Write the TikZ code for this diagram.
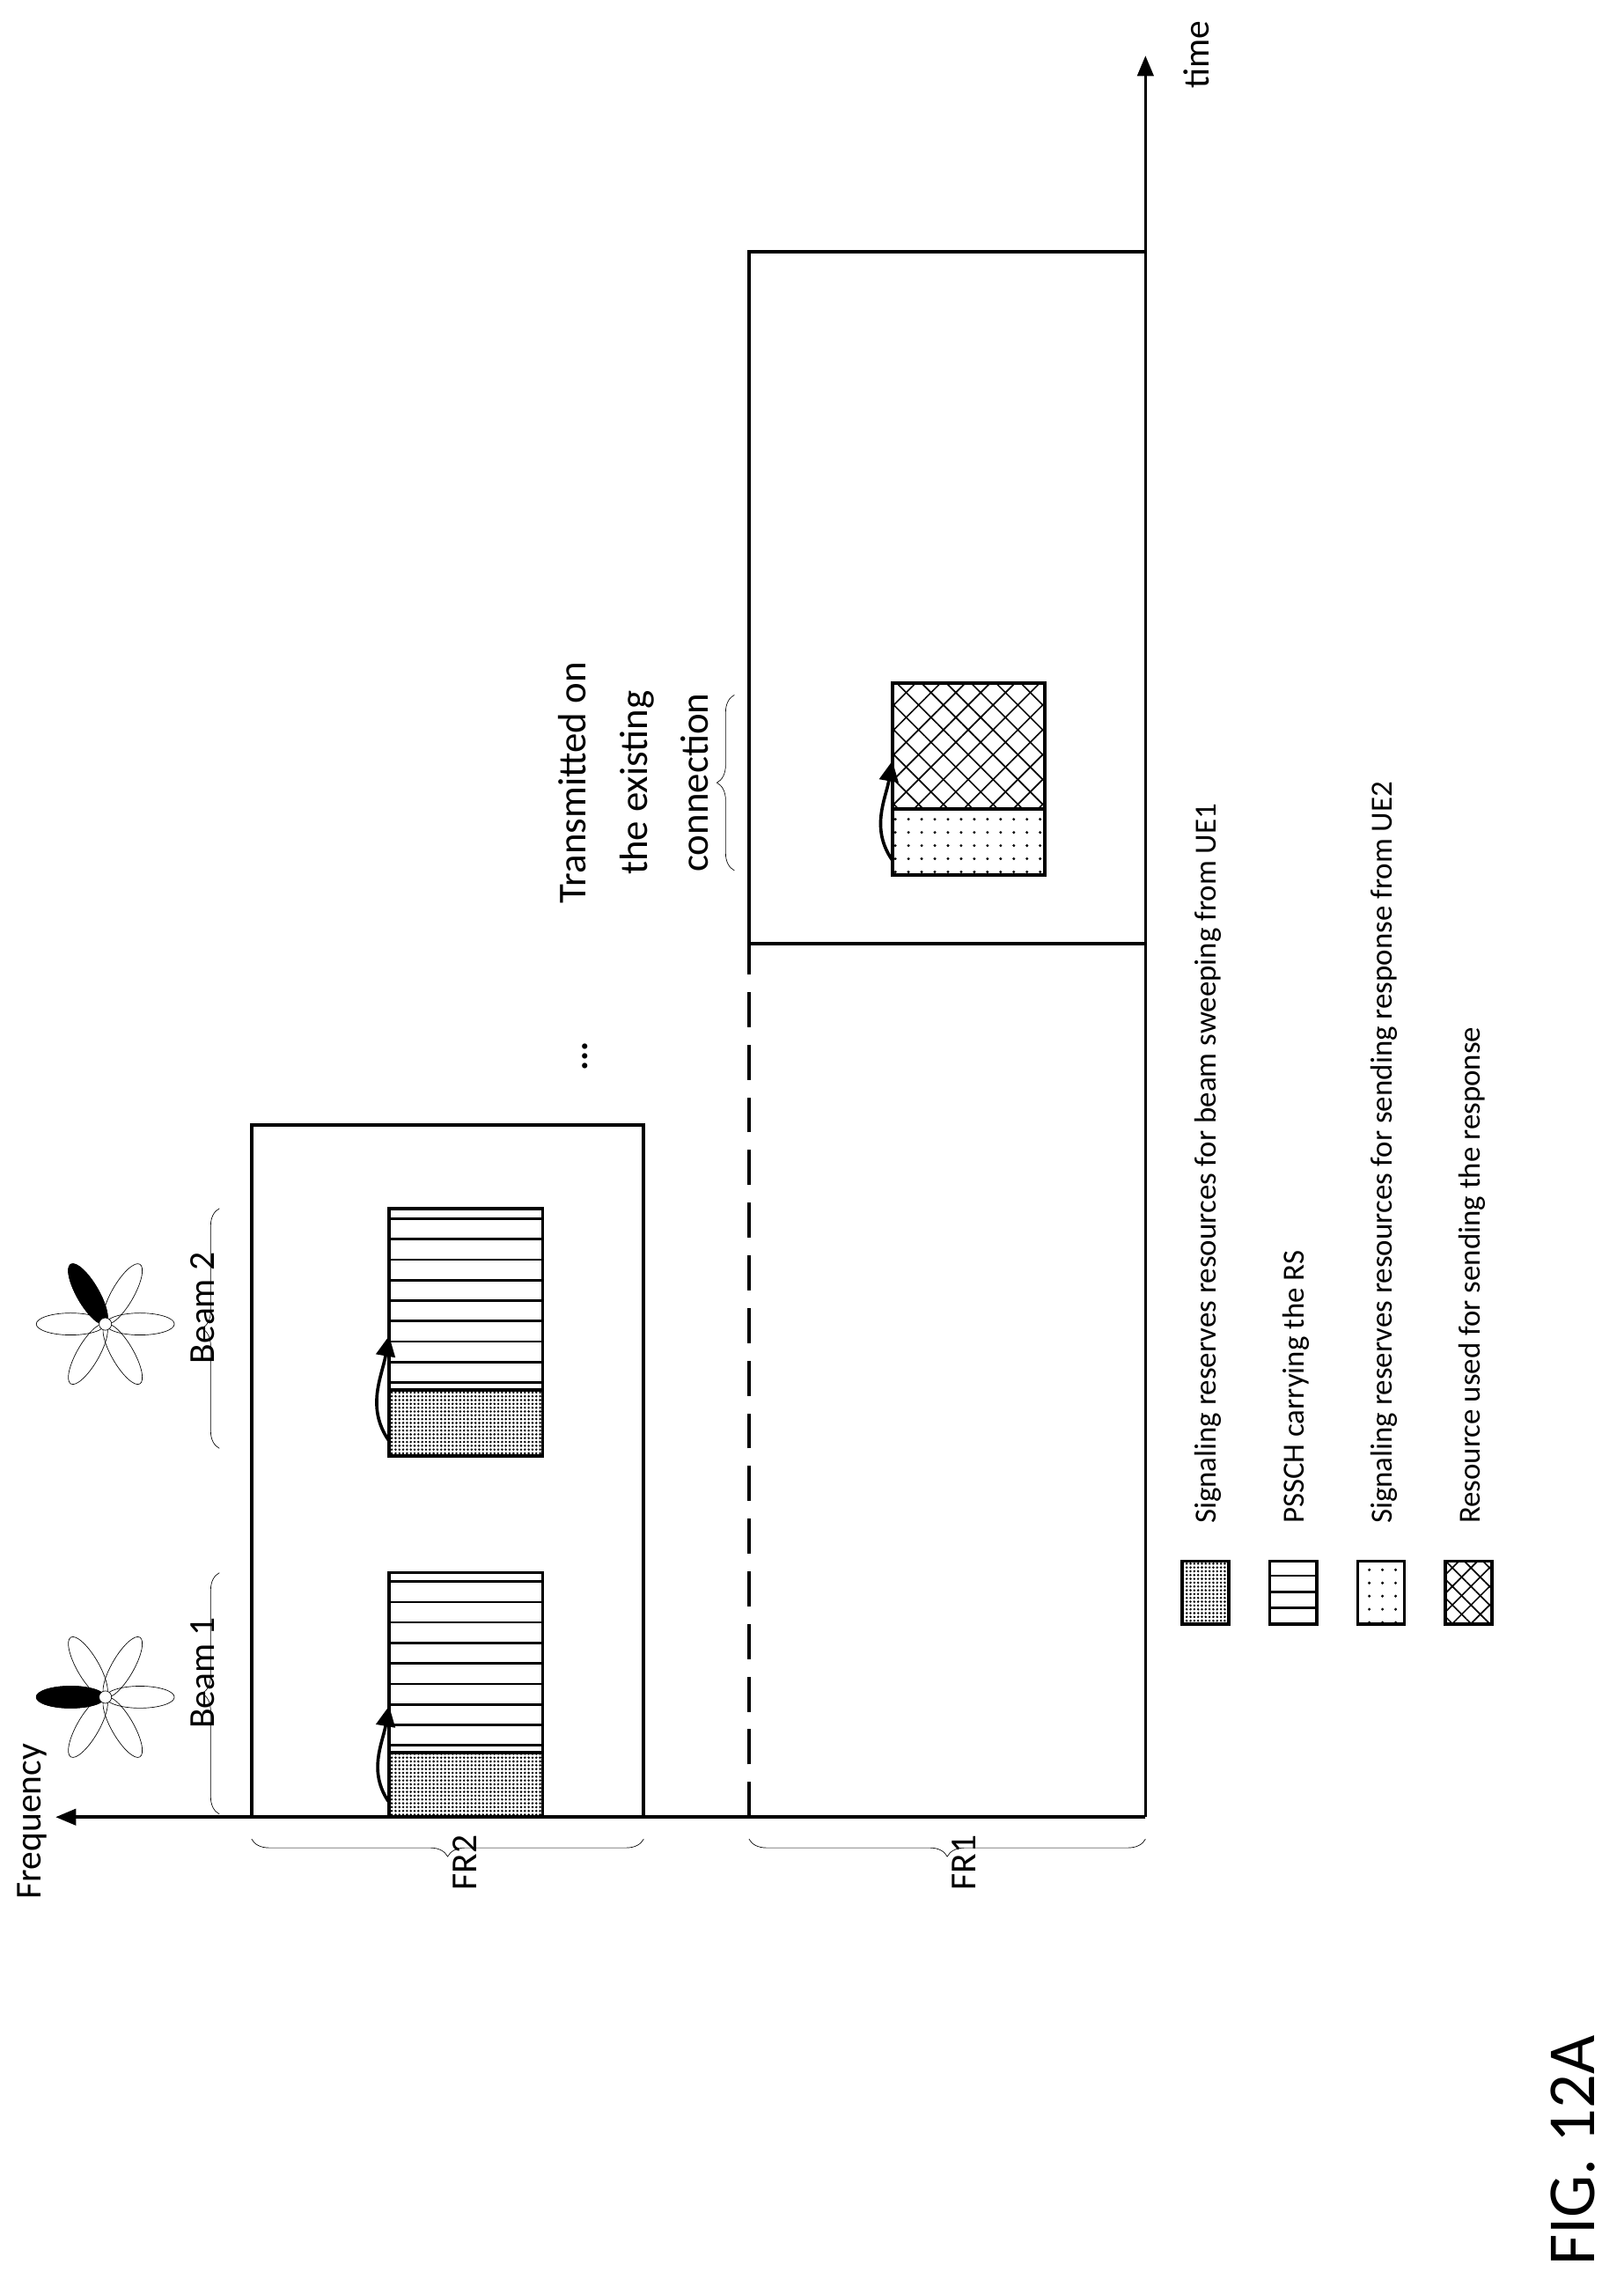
\documentclass[tikz,border=0pt]{standalone}
\usepackage{fontspec}
\setmainfont{Carlito}
\usetikzlibrary{positioning, arrows, arrows.meta, patterns, patterns.meta, decorations.pathreplacing, shapes.geometric}
\tikzset{
    >=triangle 45, % filled arrow heads
    axis/.style={line width=2.2pt, -{Triangle[length=14pt, width=11pt]}},
    frame/.style={line width=2.2pt},
    block/.style={line width=2.2pt, draw},
    lbl/.style={rotate=90, font=\fontsize{21}{25}\selectfont},
    big/.style={rotate=90, font=\fontsize{25}{30}\selectfont},
    brc/.style={decorate, decoration={brace, amplitude=12pt}, thin},
    reserve/.style={block, pattern={Dots[distance=2.6pt, radius=0.85pt]}},
    answer/.style={block, pattern={Dots[distance=9pt, radius=1pt]}},
    hatch/.style={pattern={Lines[angle=45, distance=#1, line width=1pt]}},
    hatchb/.style={pattern={Lines[angle=-45, distance=#1, line width=1pt]}},
    stripe/.style={line width=1.6pt},
    turn/.style={-{Triangle[length=14pt, width=13pt]}, line width=2.2pt},
    petal/.style={draw, thin, ellipse, minimum width=47pt, minimum height=15pt, inner sep=0pt},
}
\newcommand{\beamicon}[3]{% position, name, black angle
    \foreach \a in {0,60,...,300} {
        \node[petal, rotate=\a, anchor=west] at (#1) {};
    }
    \node[petal, rotate=#3, anchor=west, fill=black] at (#1) {};
    \node[circle, draw, thin, fill=white, inner sep=3pt] (#2) at (#1) {};
}
\begin{document}
\begin{tikzpicture}[x=1pt, y=-1pt]
\useasboundingbox (0,0) rectangle (1110,1568);
% axes
\coordinate (o) at (783,1242);
\coordinate (tend) at (783,38);
\coordinate (fend) at (38,1242);
\draw[axis] (o) -- (tend);
\draw[axis] (o) -- (fend);
\node[big, anchor=west] (time) at (818,64) {time};
\node[big] (freq) at (22,1245) {Frequency};
% FR2 region
\draw[frame] (172,1242) rectangle (440,769);
% FR1 region
\draw[frame] (512,645) rectangle (783,172);
\draw[line width=2.2pt, dash pattern=on 24pt off 12pt] (512,1242) -- (512,645);
% braces
\draw[brc] (440,1257) -- node[big, below=16pt] (fr2) {FR2} (172,1257);
\draw[brc] (783,1257) -- node[big, below=16pt] (fr1) {FR1} (512,1257);
\draw[brc] (150,1240) -- node[big, above=14pt] (b1) {Beam 1} (150,1075);
\draw[brc] (150,990) -- node[big, above=14pt] (b2) {Beam 2} (150,826);
\draw[brc] (502,595) -- (502,475);
\node[rotate=90, align=center, font=\fontsize{27}{42}\selectfont] (trans) at (433,535) {Transmitted on\\the existing\\connection};
\node[big] (dots) at (400,722) {\textbf{...}};
% beam icons
\beamicon{72,1160}{ant1}{180}
\beamicon{72,905}{ant2}{120}
% beam 1 block
\draw[block] (266,1198) rectangle (371,1075);
\foreach \y in {1081,1095,...,1195} \draw[stripe] (266,\y) -- (371,\y);
\draw[reserve] (266,1242) rectangle (371,1198);
\coordinate (p1a) at (266,1232);
\coordinate (p1b) at (266,1166);
\draw[turn] (p1a) to[out=125, in=-100] (p1b);
% beam 2 block
\draw[block] (266,950) rectangle (371,826);
\foreach \y in {833,847,...,947} \draw[stripe] (266,\y) -- (371,\y);
\draw[reserve] (266,995) rectangle (371,950);
\coordinate (p2a) at (266,985);
\coordinate (p2b) at (266,913);
\draw[turn] (p2a) to[out=125, in=-100] (p2b);
% FR1 block
\draw[block, hatch=12pt] (610,553) rectangle (714,467);
\draw[hatchb=12pt] (610,553) rectangle (714,467);
\draw[answer] (610,598) rectangle (714,553);
\coordinate (p3a) at (610,588);
\coordinate (p3b) at (610,520);
\draw[turn] (p3a) to[out=125, in=-100] (p3b);
% legend
\draw[reserve] (808,1110) rectangle (840,1067);
\node[lbl, anchor=west] (l1) at (826,1045) {Signaling reserves resources for beam sweeping from UE1};
\draw[block] (868,1110) rectangle (900,1067);
\foreach \y in {1077,1088,1099} \draw[stripe] (868,\y) -- (900,\y);
\node[lbl, anchor=west] (l2) at (886,1045) {PSSCH carrying the RS};
\draw[answer] (928,1110) rectangle (960,1067);
\node[lbl, anchor=west] (l3) at (946,1045) {Signaling reserves resources for sending response from UE2};
\draw[block, hatch=9pt] (988,1110) rectangle (1020,1067);
\draw[hatchb=9pt] (988,1110) rectangle (1020,1067);
\node[lbl, anchor=west] (l4) at (1006,1045) {Resource used for sending the response};
% caption
\node[rotate=90, font=\fontsize{46}{52}\selectfont] (fig) at (1075,1470) {FIG. 12A};
\end{tikzpicture}
\end{document}
